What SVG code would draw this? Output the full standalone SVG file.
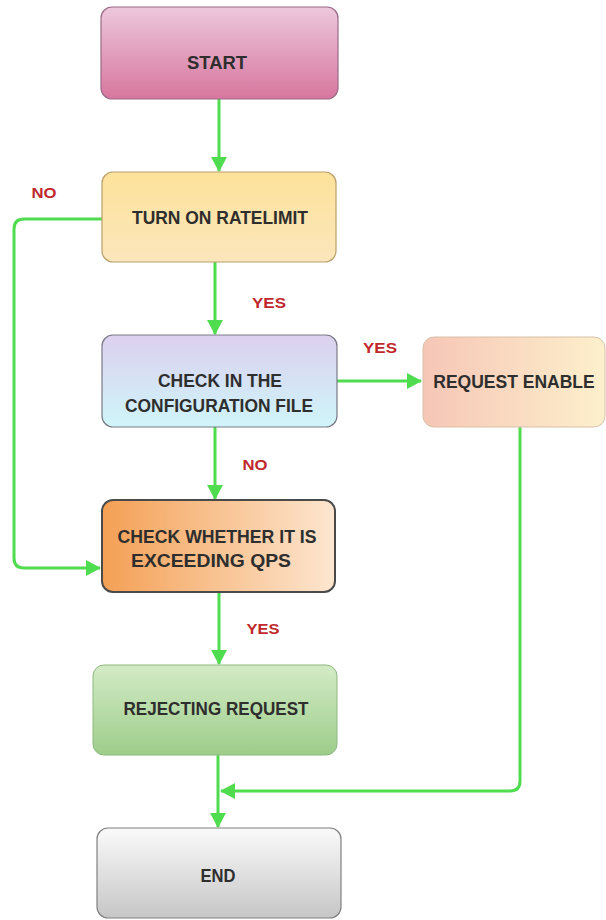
<svg xmlns="http://www.w3.org/2000/svg" width="606" height="920" viewBox="0 0 606 920">
<defs>
<linearGradient id="gStart" x1="0" y1="0" x2="0" y2="1"><stop offset="0" stop-color="#ecc8dc"/><stop offset="1" stop-color="#d8769e"/></linearGradient>
<linearGradient id="gTurn" x1="0" y1="0" x2="0" y2="1"><stop offset="0" stop-color="#fde29a"/><stop offset="1" stop-color="#fbe6bc"/></linearGradient>
<linearGradient id="gConf" x1="0" y1="0" x2="0" y2="1"><stop offset="0" stop-color="#dcd0ee"/><stop offset="1" stop-color="#cff5fa"/></linearGradient>
<linearGradient id="gReq" x1="0" y1="0" x2="1" y2="0"><stop offset="0" stop-color="#f6c6b6"/><stop offset="1" stop-color="#fdf0cc"/></linearGradient>
<linearGradient id="gQps" x1="0" y1="0" x2="1" y2="0"><stop offset="0" stop-color="#f4a055"/><stop offset="1" stop-color="#fde6d0"/></linearGradient>
<linearGradient id="gRej" x1="0" y1="0" x2="0" y2="1"><stop offset="0" stop-color="#d3ebc6"/><stop offset="1" stop-color="#9dcd8a"/></linearGradient>
<linearGradient id="gEnd" x1="0" y1="0" x2="0" y2="1"><stop offset="0" stop-color="#fafafa"/><stop offset="1" stop-color="#c6c6c6"/></linearGradient>
<marker id="arr" markerWidth="18" markerHeight="18" refX="14" refY="8" orient="auto" markerUnits="userSpaceOnUse"><path d="M0,0 L15,8 L0,16 Z" fill="#4fdc4f"/></marker>
</defs>
<style>
.node text{font-family:"Liberation Sans",Arial,sans-serif;font-weight:bold;font-size:19px;fill:#2e2e2e;text-anchor:middle;dominant-baseline:central}
.lbl{font-family:"Liberation Sans",Arial,sans-serif;font-weight:bold;font-size:15px;fill:#c0282c;text-anchor:middle;dominant-baseline:central}
.conn path{fill:none;stroke:#4fdc4f;stroke-width:3}
</style>
<g id="connectors" class="conn">
<path d="M219,99 V171" marker-end="url(#arr)"/>
<path d="M215,262 V334" marker-end="url(#arr)"/>
<path d="M337,381 H421" marker-end="url(#arr)"/>
<path d="M215,427 V499" marker-end="url(#arr)"/>
<path d="M102,219 H24 Q14,219 14,229 V558 Q14,568 24,568 H100" marker-end="url(#arr)"/>
<path d="M219,592 V664" marker-end="url(#arr)"/>
<path d="M218,755 V827" marker-end="url(#arr)"/>
<path d="M520,427 V781 Q520,791 510,791 H221" marker-end="url(#arr)"/>
</g>
<g id="labels">
<text class="lbl" x="44" y="192" textLength="25" lengthAdjust="spacingAndGlyphs">NO</text>
<text class="lbl" x="269" y="302" textLength="34" lengthAdjust="spacingAndGlyphs">YES</text>
<text class="lbl" x="380" y="347" textLength="34" lengthAdjust="spacingAndGlyphs">YES</text>
<text class="lbl" x="255" y="464" textLength="25" lengthAdjust="spacingAndGlyphs">NO</text>
<text class="lbl" x="263" y="628" textLength="33" lengthAdjust="spacingAndGlyphs">YES</text>
</g>
<g id="start" class="node">
<rect x="101" y="7" width="237" height="92" rx="11" fill="url(#gStart)" stroke="#9a6a86" stroke-width="1.2"/>
<text x="217" y="62" textLength="60" lengthAdjust="spacingAndGlyphs">START</text>
</g>
<g id="turnon" class="node">
<rect x="102" y="172" width="234" height="90" rx="11" fill="url(#gTurn)" stroke="#b89f6a" stroke-width="1.2"/>
<text x="220" y="217" textLength="176" lengthAdjust="spacingAndGlyphs">TURN ON RATELIMIT</text>
</g>
<g id="config" class="node">
<rect x="102" y="335" width="235" height="92" rx="11" fill="url(#gConf)" stroke="#7a7a86" stroke-width="1.2"/>
<text x="220" y="380" textLength="124" lengthAdjust="spacingAndGlyphs">CHECK IN THE</text>
<text x="219" y="405" textLength="188" lengthAdjust="spacingAndGlyphs">CONFIGURATION FILE</text>
</g>
<g id="reqenable" class="node">
<rect x="423" y="337" width="182" height="90" rx="11" fill="url(#gReq)" stroke="#d8c0a8" stroke-width="1"/>
<text x="514" y="382" style="font-size:17.5px">REQUEST ENABLE</text>
</g>
<g id="qps" class="node">
<rect x="102" y="500" width="233" height="92" rx="11" fill="url(#gQps)" stroke="#4a4a4a" stroke-width="2"/>
<text x="217" y="536" textLength="199" lengthAdjust="spacingAndGlyphs">CHECK WHETHER IT IS</text>
<text x="211" y="560" textLength="160" lengthAdjust="spacingAndGlyphs">EXCEEDING QPS</text>
</g>
<g id="reject" class="node">
<rect x="93" y="665" width="244" height="90" rx="11" fill="url(#gRej)" stroke="#8fb87e" stroke-width="1"/>
<text x="216" y="708" textLength="185" lengthAdjust="spacingAndGlyphs">REJECTING REQUEST</text>
</g>
<g id="end" class="node">
<rect x="97" y="828" width="244" height="90" rx="11" fill="url(#gEnd)" stroke="#808080" stroke-width="1.2"/>
<text x="218" y="875" textLength="35" lengthAdjust="spacingAndGlyphs">END</text>
</g>
</svg>
